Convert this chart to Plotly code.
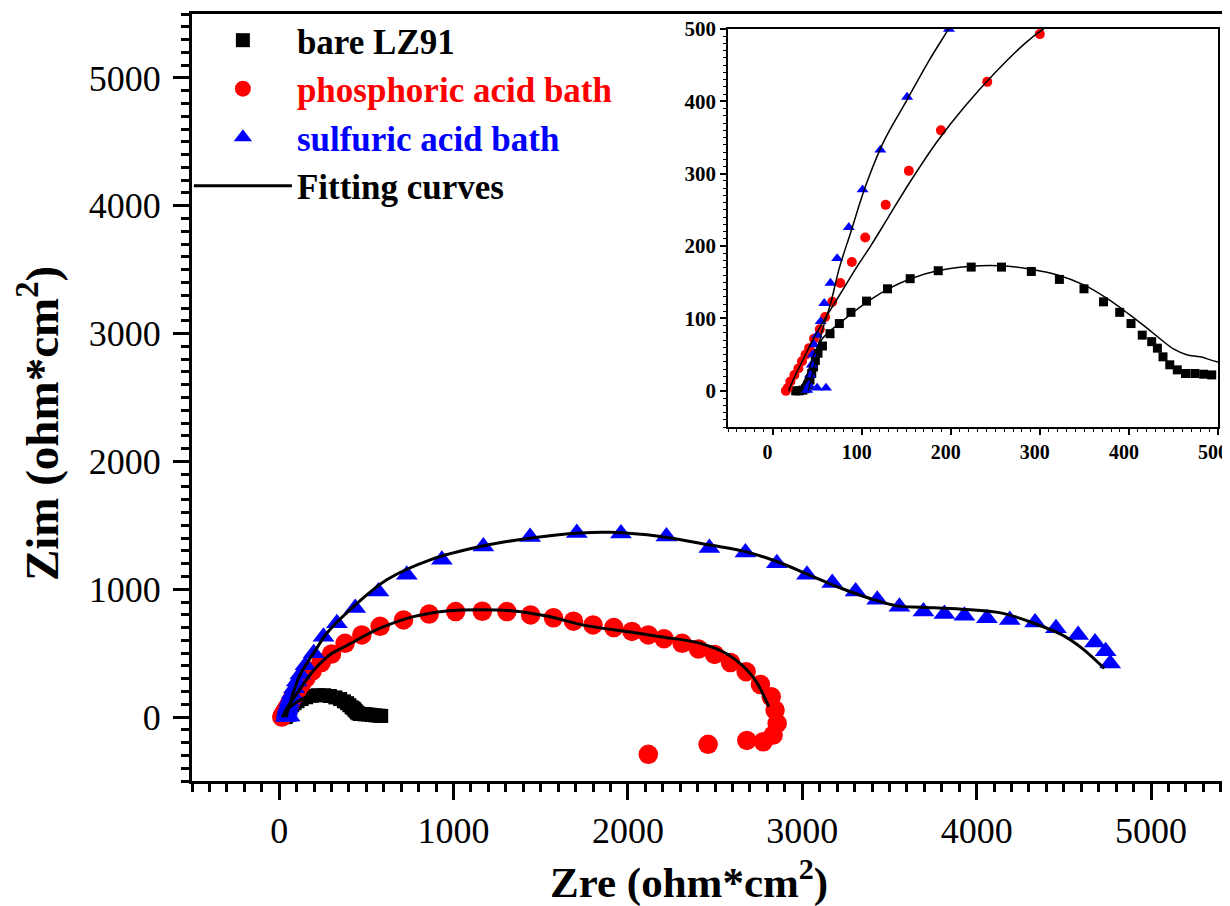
import plotly.graph_objects as go

# ---------------- data ----------------
bare_x = [26, 30, 34, 37, 40, 42, 44, 46, 48, 51, 56, 64.5, 75, 88, 105.5, 129, 154.5, 186, 223, 257,
          290.5, 322, 349.6, 371.5, 389.7, 402.4, 415, 425.6, 432, 438.3, 445.9, 454.3, 463.6, 474, 484,
          493, 510, 530, 550, 570, 585]
bare_y = [0, 0, 1, 3, 8, 15, 24, 33, 42, 52, 62, 79, 93, 108.5, 124, 141, 155, 166, 171, 171,
          165, 154, 141, 123, 108.5, 93, 77, 68, 59, 47, 36, 29, 24, 24, 23,
          22, 20, 17, 14, 11, 9]

phos_x = [15, 17, 20, 24.5, 29, 33, 37, 41, 46.5, 53, 59, 67, 76, 89, 104, 127, 153, 189, 241, 300,
          378, 474, 579, 713, 860, 1012, 1165, 1306, 1442, 1573, 1688, 1800, 1919, 2023, 2117, 2207,
          2311, 2405, 2497, 2588, 2678, 2760, 2822, 2844, 2856, 2833, 2776, 2682, 2460, 2117]
phos_y = [0, 4, 13, 22, 31, 41, 50, 59, 72, 85, 102, 123, 149, 178, 212, 257, 304, 360, 427, 493,
          577, 643, 710, 760, 806, 825, 828, 825, 799, 777, 750, 721, 700, 670, 643, 613,
          577, 532, 490, 427, 355, 255, 159, 55, -50, -141, -193, -183, -213, -291]

sulf_x = [39, 41, 42, 44, 45, 46.5, 50, 54, 58, 65, 72.5, 85.6, 101, 121, 151, 198, 254, 331, 436, 569,
          732, 933, 1171, 1439, 1707, 1960, 2221, 2467, 2674, 2854, 3027, 3172, 3306, 3430, 3557, 3695,
          3815, 3930, 4059, 4190, 4335, 4455, 4582, 4679, 4740, 4766, 50, 60]
sulf_y = [1, 8, 22, 36, 50, 64, 77, 96, 121, 149, 183, 226, 278, 333, 406, 500, 629, 734, 853, 982,
          1113, 1230, 1334, 1408, 1440, 1437, 1413, 1322, 1288, 1204, 1113, 1048, 982, 917, 864, 825,
          807, 792, 773, 760, 739, 695, 643, 583, 515, 420, 4, 4]

bare_fit_x = [30, 38, 45, 52, 60, 75, 90, 110, 130, 155, 185, 220, 255, 290, 320, 350, 375, 400, 420,
              435, 450, 465, 480, 500, 530, 560, 585]
bare_fit_y = [0, 20, 45, 65, 78, 93, 108, 126, 141, 155, 166, 172, 173, 168, 160, 146, 128, 106, 87,
              72, 58, 50, 47, 40, 35, 27, 20]

phos_fit_x = [18, 25, 35, 45, 55, 65, 80, 95, 110, 130, 155, 185, 215, 250, 285, 310, 388, 579, 770,
              962, 1153, 1344, 1535, 1726, 1841, 2013, 2186, 2416, 2578, 2716, 2808]
phos_fit_y = [0, 20, 45, 70, 92, 112, 142, 172, 200, 240, 290, 345, 392, 440, 482, 505, 560, 695, 786,
              830, 840, 830, 790, 725, 698, 665, 629, 577, 486, 316, 81]

sulf_fit_x = [40, 48, 55, 65, 75, 88, 105, 125, 150, 175, 200, 273, 426, 617, 866, 1153, 1439, 1724,
              1900, 2186, 2463, 2670, 2854, 3038, 3223, 3384, 3545, 3683, 3914, 4144, 4328, 4490, 4605,
              4732]
sulf_fit_y = [0, 40, 80, 120, 170, 220, 285, 345, 400, 455, 505, 656, 864, 1074, 1230, 1334, 1400, 1440,
              1445, 1413, 1348, 1296, 1217, 1113, 1008, 930, 870, 860, 844, 813, 734, 643, 538, 381]

names = ["bare LZ91", "phosphoric acid bath", "sulfuric acid bath", "Fitting curves"]
colors = ["black", "red", "blue"]

FONT = "Liberation Serif"

fig = go.Figure()

series = [(bare_x, bare_y, "square", 14, 9),
          (phos_x, phos_y, "circle", 19.5, 10),
          (sulf_x, sulf_y, "triangle-up", 19, 10.5)]
fits = [(bare_fit_x, bare_fit_y), (phos_fit_x, phos_fit_y), (sulf_fit_x, sulf_fit_y)]

# main plot markers
for i, (xs, ys, sym, sz, _) in enumerate(series):
    fig.add_trace(go.Scatter(
        x=xs, y=ys, mode="markers",
        marker=dict(symbol=sym, size=sz, color=colors[i], line=dict(width=0)),
        name="<b><span style='color:%s'>%s</span></b>" % (colors[i], names[i]),
        legendrank=i + 1, xaxis="x", yaxis="y"))
# main plot fits
for i, (fx, fy) in enumerate(fits):
    fig.add_trace(go.Scatter(
        x=fx, y=fy, mode="lines", line=dict(color="black", width=3, shape="spline"),
        name="<b>%s</b>" % names[3], showlegend=(i == 0), legendrank=4,
        xaxis="x", yaxis="y"))
# inset markers
for i, (xs, ys, sym, _, szi) in enumerate(series):
    fig.add_trace(go.Scatter(
        x=xs, y=ys, mode="markers", cliponaxis=True,
        marker=dict(symbol=sym, size=szi, color=colors[i], line=dict(width=0)),
        showlegend=False, xaxis="x2", yaxis="y2"))
for i, (fx, fy) in enumerate(fits):
    fig.add_trace(go.Scatter(
        x=fx, y=fy, mode="lines", line=dict(color="black", width=1.5, shape="spline"),
        showlegend=False, xaxis="x2", yaxis="y2"))

axis_common = dict(showgrid=False, zeroline=False, color="black", linecolor="black", automargin=False)

fig.update_layout(
    width=1222, height=898,
    margin=dict(l=184, r=0, t=6, b=125, autoexpand=False),
    paper_bgcolor="white", plot_bgcolor="white",
    font=dict(family=FONT, color="black"),
    xaxis=dict(**axis_common, range=[-500, 5453], domain=[0, 1], anchor="y",
               tickmode="linear", tick0=0, dtick=1000,
               ticks="outside", ticklen=16, tickwidth=3, linewidth=3, mirror=True,
               tickfont=dict(family=FONT, size=36, color="black"),
               minor=dict(dtick=100, tick0=0, ticks="outside", ticklen=8, tickwidth=2.5, tickcolor="black")),
    yaxis=dict(**axis_common, range=[-500, 5500], domain=[0, 1], anchor="x",
               tickmode="linear", tick0=0, dtick=1000,
               ticks="outside", ticklen=16, tickwidth=3, linewidth=3, mirror=False,
               ticklabelstandoff=5,
               tickfont=dict(family=FONT, size=36, color="black"),
               minor=dict(dtick=100, tick0=0, ticks="outside", ticklen=8, tickwidth=2.5, tickcolor="black")),
    xaxis2=dict(**axis_common, range=[-50, 500], domain=[0.5164, 0.9884], anchor="y2",
                tickmode="linear", tick0=0, dtick=100, ticklabelshift=-5,
                ticks="outside", ticklen=6, tickwidth=1.5, linewidth=1.5, mirror=True,
                tickfont=dict(family=FONT, size=20, color="black", weight="bold"),
                minor=dict(dtick=10, tick0=0, ticks="outside", ticklen=3, tickwidth=1, tickcolor="black")),
    yaxis2=dict(**axis_common, range=[-50, 500], domain=[0.4615, 0.9804], anchor="x2",
                tickmode="linear", tick0=0, dtick=100,
                ticks="outside", ticklen=6, tickwidth=1.5, linewidth=1.5, mirror=True,
                tickfont=dict(family=FONT, size=21, color="black", weight="bold"),
                minor=dict(dtick=10, tick0=0, ticks="outside", ticklen=3, tickwidth=1, tickcolor="black")),
    legend=dict(xref="paper", yref="paper", x=-0.003, y=1.004,
                xanchor="left", yanchor="top", bgcolor="rgba(0,0,0,0)",
                font=dict(family=FONT, size=35, color="black"), itemwidth=98,
                tracegroupgap=0, traceorder="normal"),
    annotations=[
        dict(text="<b>Zre (ohm*cm<sup>2</sup>)</b>", xref="paper", yref="paper",
             x=0.4788, y=-0.128, xanchor="center", yanchor="middle", showarrow=False,
             font=dict(family=FONT, size=43, color="black")),
        dict(text="<b>Zim (ohm*cm<sup>2</sup>)</b>", xref="paper", yref="paper",
             x=-0.1483, y=0.4654, xanchor="center", yanchor="middle", showarrow=False,
             textangle=-90, font=dict(family=FONT, size=47, color="black")),
    ],
)

fig.write_html(
    "out.html",
    post_script="document.documentElement.style.overflow='hidden'; document.body.style.overflow='hidden';",
)
